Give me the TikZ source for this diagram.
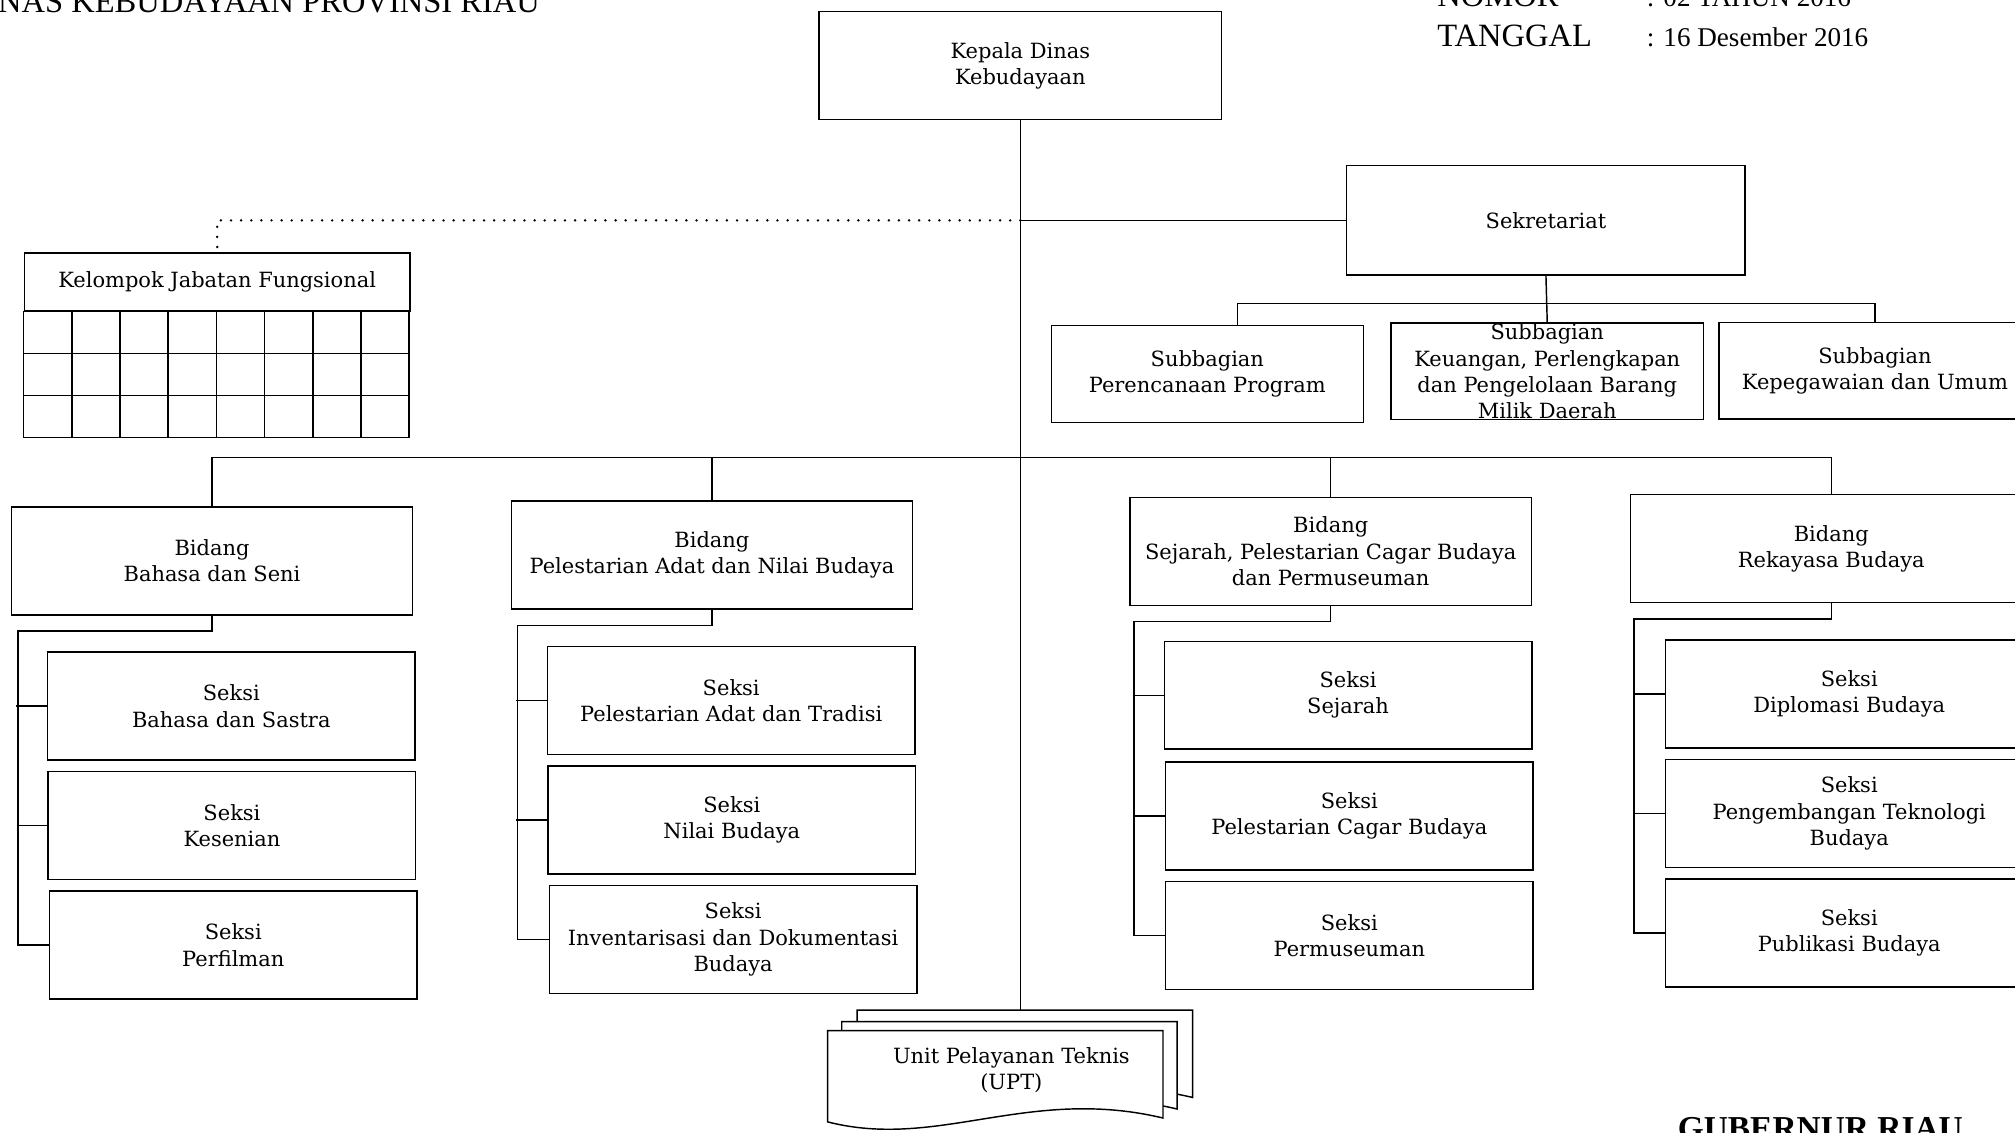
\documentclass[tikz,border=0pt]{standalone}
\usepackage{fontspec}
\setmainfont{DejaVu Serif}
\newfontfamily\headfont{Liberation Serif}
\begin{document}
\begin{tikzpicture}[x=0.025cm, y=-0.025cm, line width=0.8pt]
  \tikzstyle{box} = [draw, rectangle, align=center, inner sep=2pt, font=\fontsize{11.6}{14.5}\selectfont]
  \tikzstyle{bidang} = [box, minimum width=7.8cm, minimum height=2.1cm]
  \tikzstyle{seksi} = [box, minimum width=7.15cm, minimum height=2.1cm]
  \tikzstyle{subbag} = [box, minimum width=6.07cm, minimum height=1.88cm]
  \tikzstyle{head} = [anchor=base west, inner sep=0pt, font=\headfont\fontsize{18}{18}\selectfont]
  \tikzstyle{sheet} = [draw, fill=white]
  \useasboundingbox (0,0) rectangle (1568,881);

  % heading
  \node[head] (title) at (-2,10) {NAS KEBUDAYAAN PROVINSI RIAU};
  \node[head] (nomor) at (1118,5) {NOMOR};
  \node[head, font=\headfont\fontsize{15}{15}\selectfont] (nomorv) at (1281,5) {: 02 TAHUN 2016};
  \node[head] (tgl) at (1118,36) {TANGGAL};
  \node[head, font=\headfont\fontsize{15}{15}\selectfont] (tglv) at (1281,36) {: 16 Desember 2016};
  \node[head, font=\headfont\bfseries\fontsize{18.5}{18.5}\selectfont] (gub) at (1305,887) {GUBERNUR RIAU};

  % top
  \node[box, minimum width=7.825cm, minimum height=2.1cm] (KD) at (794,51) {Kepala Dinas\\Kebudayaan};
  \node[box, minimum width=7.75cm, minimum height=2.125cm] (Sek) at (1203,171.5) {Sekretariat};
  \node[box, minimum width=7.5cm, minimum height=1.125cm] (KJF) at (169,219.5) {Kelompok Jabatan Fungsional};
  \draw (KJF.south west) rectangle ++(300,98);
  \foreach \i in {1,...,7} \draw (KJF.south west) ++(\i*37.5,0) -- ++(0,98);
  \foreach \j in {1,2} \draw (KJF.south west) ++(0,\j*32.7) -- ++(300,0);

  \node[subbag] (SB1) at (939.5,291) {Subbagian\\Perencanaan Program};
  \node[subbag, inner ysep=0pt] (SB2) at (1204,289) {Subbagian\\Keuangan, Perlengkapan\\dan Pengelolaan Barang\\Milik Daerah};
  \node[subbag] (SB3) at (1459,288.5) {Subbagian\\Kepegawaian dan Umum};

  % bidang
  \node[bidang] (B1) at (165,436.5) {Bidang\\Bahasa dan Seni};
  \node[bidang] (B2) at (554,432) {Bidang\\Pelestarian Adat dan Nilai Budaya};
  \node[bidang] (B3) at (1035.5,429) {Bidang\\Sejarah, Pelestarian Cagar Budaya\\dan Permuseuman};
  \node[bidang] (B4) at (1425,427) {Bidang\\Rekayasa Budaya};

  % seksi
  \node[seksi] (S11) at (180,549.5) {Seksi\\Bahasa dan Sastra};
  \node[seksi] (S12) at (180.5,642.5) {Seksi\\Kesenian};
  \node[seksi] (S13) at (181.5,735.5) {Seksi\\Perfilman};
  \node[seksi] (S21) at (569,545) {Seksi\\Pelestarian Adat dan Tradisi};
  \node[seksi] (S22) at (569.5,638) {Seksi\\Nilai Budaya};
  \node[seksi] (S23) at (570.5,731) {Seksi\\Inventarisasi dan Dokumentasi\\Budaya};
  \node[seksi] (S31) at (1049,541) {Seksi\\Sejarah};
  \node[seksi] (S32) at (1050,635) {Seksi\\Pelestarian Cagar Budaya};
  \node[seksi] (S33) at (1050,728) {Seksi\\Permuseuman};
  \node[seksi] (S41) at (1439,540) {Seksi\\Diplomasi Budaya};
  \node[seksi] (S42) at (1439,633) {Seksi\\Pengembangan Teknologi\\Budaya};
  \node[seksi] (S43) at (1439,726) {Seksi\\Publikasi Budaya};

  % UPT
  \foreach \dx/\dy in {23/-16, 11/-7, 0/0}
    \draw[sheet, shift={(\dx,\dy)}] (644,802) -- (905,802) -- (905,870)
      .. controls (800,845) and (730,895) .. (644,873) -- cycle;
  \node[font=\fontsize{11.6}{14.5}\selectfont, align=center] (UPT) at (787,833) {Unit Pelayanan Teknis\\(UPT)};
  \coordinate (UPTtop) at (794,786);

  % lines
  \coordinate (kbr) at (KD.south |- Sek.west);
  \coordinate (sbus) at (1203,236);
  \coordinate (bbus) at (794,356);
  \draw (KD) -- (UPTtop);
  \draw (kbr) -- (Sek.west);
  \draw[line width=1.5pt, dash pattern=on 0pt off 5.6pt, line cap=round] (kbr) -| (KJF.north);
  \draw (Sek.south) -- (SB2.north);
  \draw ([xshift=0.59cm]SB1.north) |- (sbus) -| (SB3.north);
  \draw (B1.north) |- (bbus) -| (B4.north);
  \draw (B2.north) -- (B2.north |- bbus);
  \draw (B3.north) -- (B3.north |- bbus);
  \foreach \bi in {1,...,4} {
    \draw (B\bi.south) -- ++(0,12) -| ([xshift=-0.6cm]S\bi3.west) -- (S\bi3.west);
    \foreach \si in {1,2}
      \draw ([xshift=-0.6cm]S\bi\si.west) -- (S\bi\si.west);
  }
\end{tikzpicture}
\end{document}
